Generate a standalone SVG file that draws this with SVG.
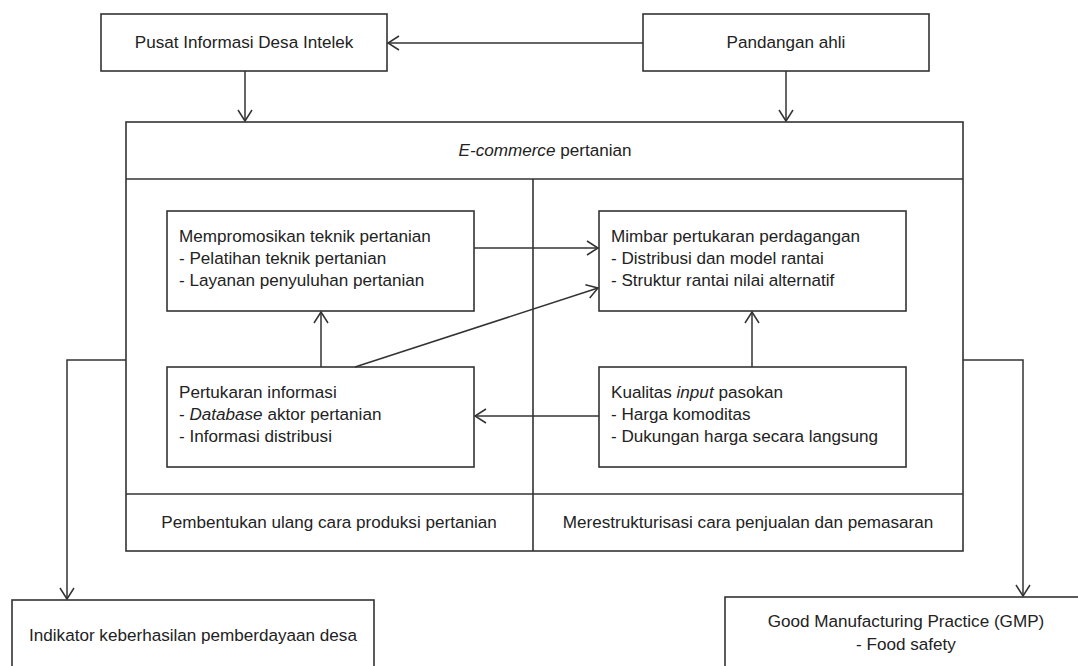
<svg xmlns="http://www.w3.org/2000/svg" width="1078" height="666" viewBox="0 0 1078 666">
<style>
.box{fill:#fff;stroke:#333;stroke-width:1.6}
.ln{fill:none;stroke:#333;stroke-width:1.6}
.c{stroke:#333;stroke-width:1.5;fill:none;marker-end:url(#arr)}
text{font-family:"Liberation Sans",Arial,sans-serif;font-size:17.1px;fill:#222}
.m{text-anchor:middle}
</style>
<defs>
<marker id="arr" markerWidth="20" markerHeight="20" refX="15" refY="10" orient="auto" markerUnits="userSpaceOnUse">
<path d="M4,3 L15,10 L4,17" fill="none" stroke="#333" stroke-width="1.5"/>
</marker>
</defs>
<rect width="1078" height="666" fill="#fff"/>
<g id="pusat"><rect class="box" x="101" y="14" width="286" height="57"/><text class="m" x="244" y="48">Pusat Informasi Desa Intelek</text></g>
<g id="pandangan"><rect class="box" x="643" y="14" width="286" height="57"/><text class="m" x="786" y="48">Pandangan ahli</text></g>
<g id="ecommerce">
<rect class="box" x="126" y="122" width="837" height="429"/>
<line class="ln" x1="126" y1="179" x2="963" y2="179"/>
<line class="ln" x1="533" y1="179" x2="533" y2="551"/>
<line class="ln" x1="126" y1="494" x2="963" y2="494"/>
<text class="m" x="545" y="156"><tspan font-style="italic">E-commerce</tspan> pertanian</text>
</g>
<g id="pembentukan"><text class="m" x="329" y="528">Pembentukan ulang cara produksi pertanian</text></g>
<g id="merestrukturisasi"><text class="m" x="748" y="528">Merestrukturisasi cara penjualan dan pemasaran</text></g>
<g id="mempromosikan"><rect class="box" x="167" y="211" width="307" height="100"/>
<text x="179" y="242">Mempromosikan teknik pertanian</text>
<text x="179" y="264">- Pelatihan teknik pertanian</text>
<text x="179" y="286">- Layanan penyuluhan pertanian</text></g>
<g id="pertukaran"><rect class="box" x="167" y="367" width="307" height="100"/>
<text x="179" y="398">Pertukaran informasi</text>
<text x="179" y="420">- <tspan font-style="italic">Database</tspan> aktor pertanian</text>
<text x="179" y="442">- Informasi distribusi</text></g>
<g id="mimbar"><rect class="box" x="599" y="211" width="307" height="100"/>
<text x="611" y="242">Mimbar pertukaran perdagangan</text>
<text x="611" y="264">- Distribusi dan model rantai</text>
<text x="611" y="286">- Struktur rantai nilai alternatif</text></g>
<g id="kualitas"><rect class="box" x="599" y="367" width="307" height="100"/>
<text x="611" y="398">Kualitas <tspan font-style="italic">input</tspan> pasokan</text>
<text x="611" y="420">- Harga komoditas</text>
<text x="611" y="442">- Dukungan harga secara langsung</text></g>
<g id="indikator"><rect class="box" x="12" y="600" width="362" height="80"/><text class="m" x="193" y="641">Indikator keberhasilan pemberdayaan desa</text></g>
<g id="gmp"><rect class="box" x="725" y="597" width="370" height="80"/>
<text class="m" x="906" y="627">Good Manufacturing Practice (GMP)</text>
<text class="m" x="906" y="650">- Food safety</text></g>
<g id="connectors">
<line class="c" x1="643" y1="43" x2="388" y2="43"/>
<line class="c" x1="245" y1="71" x2="245" y2="121"/>
<line class="c" x1="786" y1="71" x2="786" y2="121"/>
<line class="c" x1="474" y1="248" x2="598" y2="248"/>
<line class="c" x1="355" y1="367" x2="598" y2="288"/>
<line class="c" x1="321" y1="367" x2="321" y2="312"/>
<line class="c" x1="599" y1="416" x2="475" y2="416"/>
<line class="c" x1="752" y1="367" x2="752" y2="312"/>
<polyline class="c" points="126,360 67,360 67,599"/>
<polyline class="c" points="963,360 1023,360 1023,596"/>
</g>
</svg>
